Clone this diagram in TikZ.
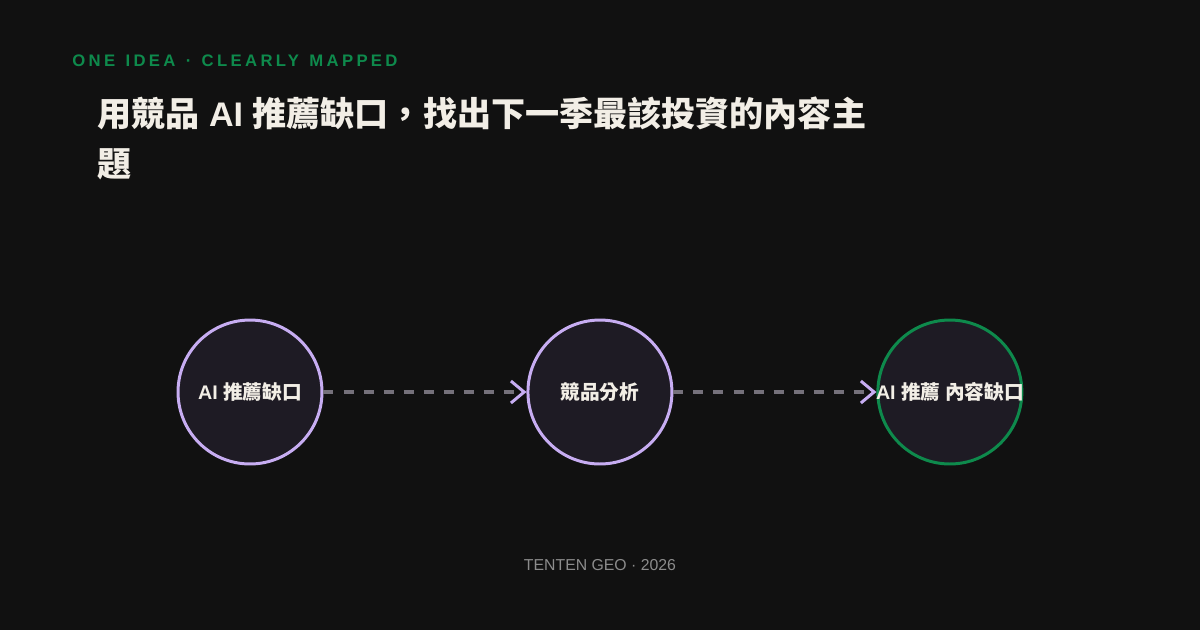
\documentclass[tikz,border=0pt]{standalone}
\usepackage{fontspec}
\setmainfont{Liberation Sans}
\newfontfamily\cjk{Noto Sans CJK TC}
\newfontfamily\kickerfont{Liberation Sans}[LetterSpace=20,WordSpace=1.3]
\usetikzlibrary{arrows.meta,positioning}
\definecolor{bg}{HTML}{111111}
\definecolor{ink}{HTML}{F2EEE6}
\definecolor{lilac}{HTML}{C7ADF2}
\definecolor{jade}{HTML}{0E8A4C}
\definecolor{nodefill}{HTML}{1E1B24}
\definecolor{flowgray}{HTML}{75717B}
\definecolor{muted}{HTML}{8C8C8C}

\begin{document}
\begin{tikzpicture}[x=0.02cm,y=-0.02cm,
    stage/.style={circle,draw=lilac,line width=1.7pt,fill=nodefill,minimum size=2.88cm,inner sep=0pt,text=ink,font=\bfseries\fontsize{11.2}{13}\selectfont},
    flow/.style={flowgray,line width=1.8pt,dash pattern=on 5.7pt off 5.7pt,-{Straight Barb[color=lilac,length=7.5pt,width=12.5pt,line width=1.7pt]}}]
        \useasboundingbox (0,0) rectangle (1200,630);
        \fill[bg] (0,0) rectangle (1200,630);
        \node[anchor=base west,inner sep=0pt,text=jade,font=\kickerfont\bfseries\fontsize{9.5}{11}\selectfont] (kicker) at (72,66) {ONE IDEA · CLEARLY MAPPED};
        \node[anchor=north west,inner sep=0pt,align=left,text=ink,font=\bfseries\fontsize{19.4}{28.3}\selectfont] (headline) at (97,97) {{\cjk 用競品} AI {\cjk 推薦缺口，找出下一季最該投資的內容主}\\{\cjk 題}};
        \node[stage] (gap) at (250,392) {AI {\cjk 推薦缺口}};
        \node[stage,on grid,right=7cm of gap] (rival) {\cjk 競品分析};
        % label is wider than the circle, so let it spill over
        \node[stage,draw=jade,on grid,right=7cm of rival] (topic) {\makebox[0pt]{AI {\cjk 推薦 內容缺口}}};
        \draw[flow] (gap) -- (rival);
        \draw[flow] (rival) -- (topic);
        \node[anchor=base,inner sep=0pt,text=muted,font=\fontsize{9}{11}\selectfont] (footer) at (600,570) {TENTEN GEO · 2026};
      \end{tikzpicture}
\end{document}
